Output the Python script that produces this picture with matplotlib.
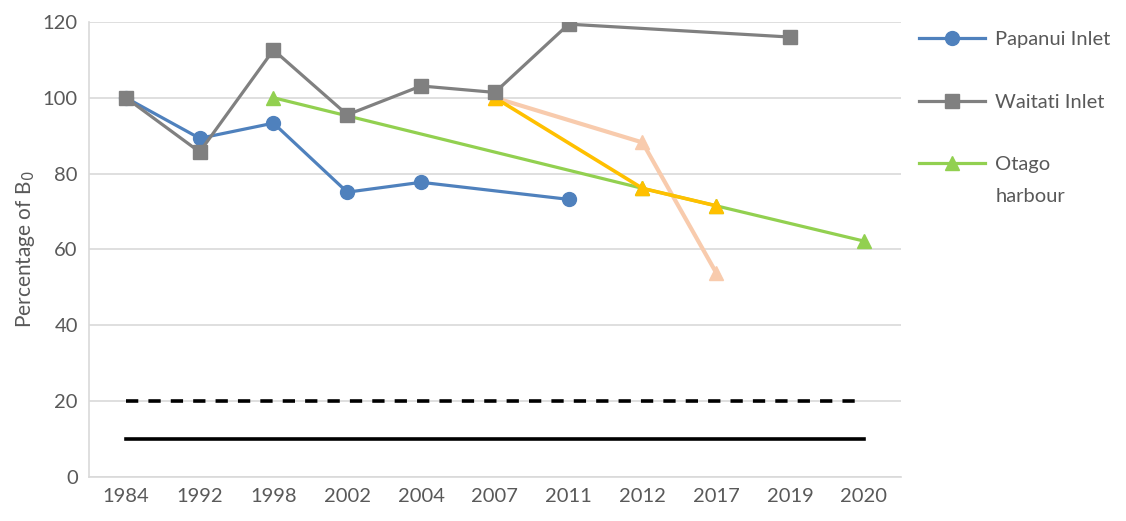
import numpy as np
import matplotlib.pyplot as plt

years = ["1984", "1992", "1998", "2002", "2004", "2007", "2011", "2012", "2017", "2019", "2020"]
nan = np.nan

papanui = [100, 89.3, 93.3, 75.1, 77.7, nan, 73.2, nan, nan, nan, nan]
waitati = [100, 85.7, 112.6, 95.5, 103.1, 101.4, 119.4, nan, nan, 116.0, nan]
otago = [nan, nan, 100, nan, nan, nan, nan, 76.1, 71.5, nan, 62.2]
otago_a = [nan, nan, nan, nan, nan, 100, nan, 76.1, 71.5, nan, nan]
otago_b = [nan, nan, nan, nan, nan, 100, nan, 88.2, 53.8, nan, nan]
soft_limit = [20] * len(years)
hard_limit = [10] * len(years)

plt.rcParams['font.family'] = ['Lato', 'DejaVu Sans']
txt = '#595959'

fig = plt.figure(figsize=(11.26, 5.21), dpi=100)
ax = fig.add_axes([0.079, 0.0845, 0.721, 0.8735])
x = np.arange(len(years))


def plot_series(vals, lw=2.3, **kw):
    vals = np.array(vals, dtype=float)
    m = ~np.isnan(vals)
    return ax.plot(x[m], vals[m], lw=lw, **kw)


ax.plot(x, soft_limit, color='black', lw=2.6, ls=(0, (3.4, 2.8)), zorder=2)
ax.plot(x, hard_limit, color='black', lw=2.6, zorder=2)
plot_series(otago_b, color='#F8CBAD', marker='^', ms=10, lw=3, zorder=3)
plot_series(otago, color='#92D050', marker='^', ms=10, zorder=4, label='Otago')
plot_series(otago_a, color='#FFC000', marker='^', ms=10, lw=2.6, zorder=5)
plot_series(papanui, color='#4F81BD', marker='o', ms=10, zorder=6, label='Papanui Inlet')
plot_series(waitati, color='#808080', marker='s', ms=10, zorder=7, label='Waitati Inlet')

ax.set_xlim(-0.5, len(years) - 0.5)
ax.set_ylim(0, 120)
ax.set_yticks(range(0, 121, 20))
ax.set_xticks(x)
ax.set_xticklabels(years)
ax.grid(axis='y', color='#d9d9d9', lw=1.2)
ax.set_axisbelow(True)
for s in ['top', 'right']:
    ax.spines[s].set_visible(False)
for s in ['left', 'bottom']:
    ax.spines[s].set_color('#d9d9d9')
    ax.spines[s].set_linewidth(1.2)
ax.tick_params(length=0, labelsize=14.5, colors=txt, pad=8)
ax.set_ylabel('Percentage of B$_0$', fontsize=15, color=txt, labelpad=4)

h, l = ax.get_legend_handles_labels()
order = [1, 2, 0]
leg = fig.legend([h[i] for i in order], [l[i] for i in order], loc='upper left',
                 bbox_to_anchor=(0.8, 0.975), frameon=False, fontsize=14.5,
                 labelspacing=2.25, handlelength=3.3, handletextpad=0.5)
for t in leg.get_texts():
    t.set_color(txt)

# second line of the wrapped "Otago harbour" label
fig.canvas.draw()
bb = leg.get_texts()[2].get_window_extent().transformed(fig.transFigure.inverted())
fig.text(bb.x0, bb.y0 - 0.028, 'harbour', fontsize=14.5, color=txt, va='top', ha='left')

fig.savefig('out.png', dpi=100)
